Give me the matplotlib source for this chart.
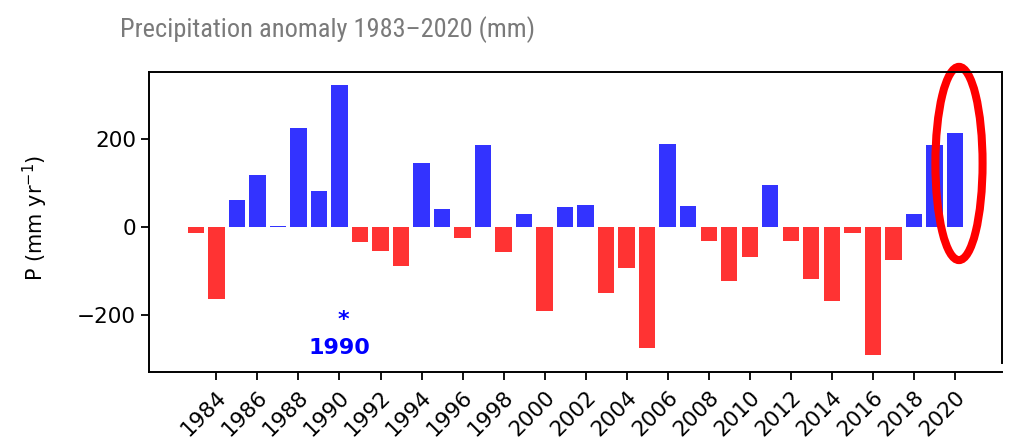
import matplotlib
matplotlib.use("Agg")
import matplotlib.pyplot as plt
from matplotlib.patches import Ellipse

years = list(range(1983, 2021))
anomaly = [-14, -165, 61, 117, 2, 225, 82, 323, -35, -55,
           -90, 146, 40, -25, 186, -57, 30, -193, 45, 49,
           -152, -93, -277, 189, 48, -32, -123, -69, 95, -32,
           -120, -168, -14, -293, -75, 28, 186, 213]
tick_years = list(range(1984, 2021, 2))
mark_year = 1990

colors = ["b" if v >= 0 else "r" for v in anomaly]

fig = plt.figure(figsize=(10.13, 4.48), dpi=100)
ax = fig.add_axes([0.147, 0.19, 0.842, 0.649])

# spine position resets the ticks, so do it before styling them
for s in ax.spines.values():
    s.set_linewidth(1.4)
ax.spines["bottom"].set_position(("outward", 6.5))
# let the left spine run down to the shifted bottom one
ax.spines["left"].set_bounds(-330, 352)

ax.bar(years, anomaly, width=0.8, color=colors, alpha=0.8)

ax.set_ylim(-310, 352)
ax.set_xticks(tick_years)
ax.set_yticks([-200, 0, 200])
ax.tick_params(labelsize=15.5, length=5.8, width=1.3)
ax.tick_params(axis="x", pad=5)
plt.setp(ax.get_xticklabels(), rotation=45, ha="right", va="top",
         rotation_mode="anchor")
ax.set_ylabel("P (mm yr$^{-1}$)", fontsize=15)
ax.yaxis.set_label_coords(-0.116, 0.5)

# asterisk + year for the marked year
ax.text(mark_year + 0.2, -212, "*", color="blue", fontsize=16,
        fontweight="bold", ha="center", va="center")
ax.text(mark_year, -275, str(mark_year), color="blue", fontsize=16,
        fontweight="bold", ha="center", va="center")

# highlight the latest year
ax.add_patch(Ellipse((2020.2, 144), 2.3, 440, fill=False,
                     edgecolor="red", linewidth=5.8, clip_on=False))

fig.text(0.118, 0.935, "Precipitation anomaly 1983–2020 (mm)",
         family=["Roboto Condensed", "DejaVu Sans"],
         fontstretch="condensed",
         fontsize=19, color="#7a7a7a", va="center", ha="left")

fig.savefig("out.png", dpi=100)
